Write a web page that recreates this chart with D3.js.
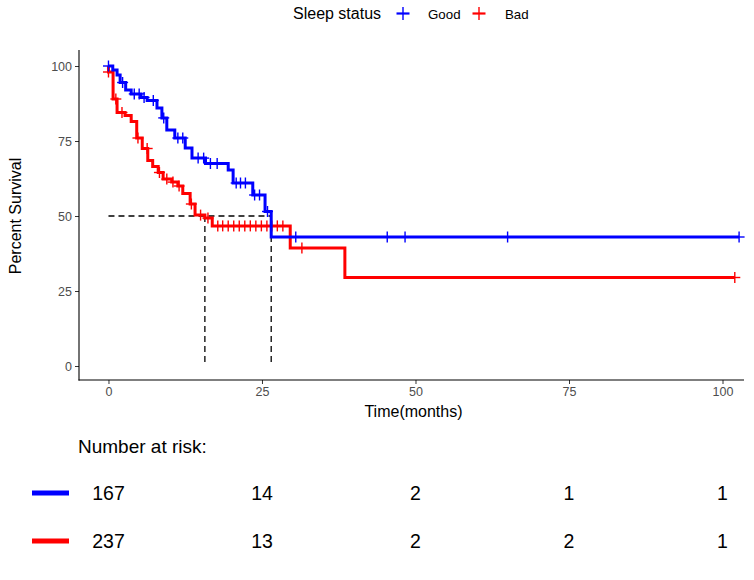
<!DOCTYPE html>
<html><head><meta charset="utf-8">
<script src="https://cdn.jsdelivr.net/npm/d3@7"></script>
<style>body{margin:0;background:#fff}svg{display:block}text{font-family:"Liberation Sans",Arial,Helvetica,sans-serif}</style>
</head><body><svg id="c" width="754" height="580"></svg>
<script>
// ---- data ----
const groups = ["Good", "Bad"];
const colors = ["#0000FF", "#FF0000"];
// step points: [time (months), percent survival]
const goodSteps = [[0,100],[0.7,98.7],[1.4,97],[1.9,94.5],[2.8,92],[3.7,90.7],[5.3,89.5],[6.3,88.5],[7.9,86],[8.7,82.7],[9.5,78.7],[10.8,76],[12.5,72.7],[13.6,69.3],[15.8,67.5],[19.5,65.3],[20.3,61],[23.5,57],[25.5,51.5],[26.5,43],[102.7,43]];
const badSteps = [[0,98],[0.75,89],[1.4,84.5],[2.7,83.5],[3.7,81.5],[4.6,76],[5.5,72.5],[6.4,68.5],[7.2,66.5],[8.1,64.5],[8.9,62.3],[10.3,61.3],[11.3,60],[12.1,57.5],[13.3,54],[14.1,50.3],[15.7,49.3],[16.9,46.7],[29.6,39.3],[38.5,29.5],[102,29.5]];
const goodCensor = [0,2.3,4.2,5,5.8,7.3,9.0,11.3,12.1,14.6,15.5,16.6,17.7,20.8,21.5,22.3,23.8,24.6,25.9,30.5,45.4,48.3,65,102.7];
const badCensor = [0,1.2,2.2,4.8,6.3,8.3,9.5,10.5,11.5,13.5,15,16.2,17.8,18.6,19.5,20.4,21.3,22.2,23.1,24.0,24.9,25.8,26.6,27.5,28.4,31.5,102];
const medians = [26.5, 15.7];
const xTicks = [0,25,50,75,100];
const yTicks = [0,25,50,75,100];
const riskTimes = [0,25,50,75,100];
const riskGood = [167,14,2,1,1];
const riskBad = [237,13,2,2,1];

const svg = d3.select("#c");
const x = d3.scaleLinear().domain([-4.8,103.5]).range([79,744]);
const y = d3.scaleLinear().domain([-5,105]).range([381,51]);

function survAt(steps,t){let s=steps[0][1];for(const p of steps){if(p[0]<=t)s=p[1];}return s;}

// median lines
const g0 = svg.append("g");
g0.append("line").attr("x1",x(0)).attr("x2",x(d3.max(medians))).attr("y1",y(50)).attr("y2",y(50))
  .attr("stroke","#000").attr("stroke-width",1.3).attr("stroke-dasharray","6,4");
medians.forEach(m=>{
  g0.append("line").attr("x1",x(m)).attr("x2",x(m)).attr("y1",y(50)).attr("y2",y(0))
    .attr("stroke","#000").attr("stroke-width",1.3).attr("stroke-dasharray","6,4");
});

// curves
const line = d3.line().x(d=>x(d[0])).y(d=>y(d[1])).curve(d3.curveStepAfter);
const allSteps=[goodSteps,badSteps], allCens=[goodCensor,badCensor];
[1,0].forEach(i=>{
  const st = i===0? [[0,100],...goodSteps.slice(1)] : [[0,100],...badSteps];
  svg.append("path").attr("d",line(st)).attr("fill","none").attr("stroke",colors[i]).attr("stroke-width",3);
  const cg = svg.append("g").attr("stroke",colors[i]).attr("stroke-width",1.4);
  allCens[i].forEach(t=>{
    const cx=x(t), cy=y(survAt(allSteps[i],t));
    cg.append("line").attr("x1",cx-5.5).attr("x2",cx+5.5).attr("y1",cy).attr("y2",cy);
    cg.append("line").attr("x1",cx).attr("x2",cx).attr("y1",cy-5.5).attr("y2",cy+5.5);
  });
});

// axes
const ax = svg.append("g").attr("transform","translate(0,380)")
  .call(d3.axisBottom(x).tickValues(xTicks).tickSize(4).tickPadding(3));
const ay = svg.append("g").attr("transform","translate(79,0)")
  .call(d3.axisLeft(y).tickValues(yTicks).tickSize(4).tickPadding(3));
[ax,ay].forEach(a=>{
  a.select(".domain").remove();
  a.selectAll(".tick line").attr("stroke","#333").attr("stroke-width",1);
  a.selectAll(".tick text").attr("fill","#4d4d4d").style("font-size","12.5px").style("font-family","Liberation Sans, Arial, sans-serif");
});
svg.append("line").attr("x1",79).attr("x2",79).attr("y1",50).attr("y2",380.5).attr("stroke","#000").attr("stroke-width",1.1);
svg.append("line").attr("x1",78.5).attr("x2",744).attr("y1",380).attr("y2",380).attr("stroke","#000").attr("stroke-width",1.1);

svg.append("text").attr("x",x(50)-2).attr("y",417).attr("text-anchor","middle").style("font-size","16px").text("Time(months)");
svg.append("text").attr("transform","translate(21,216) rotate(-90)").attr("text-anchor","middle").style("font-size","16px").text("Percent Survival");

// legend
const lg = svg.append("g");
lg.append("text").attr("x",293).attr("y",19).style("font-size","16px").text("Sleep status");
const lx=[403,479], tx=[428,505];
groups.forEach((gname,i)=>{
  lg.append("line").attr("x1",lx[i]-6.5).attr("x2",lx[i]+6.5).attr("y1",13.5).attr("y2",13.5).attr("stroke",colors[i]).attr("stroke-width",2.2);
  lg.append("line").attr("x1",lx[i]).attr("x2",lx[i]).attr("y1",7).attr("y2",20).attr("stroke",colors[i]).attr("stroke-width",1.4);
  lg.append("text").attr("x",tx[i]).attr("y",18.5).style("font-size","13.3px").text(gname);
});

// risk table
svg.append("text").attr("x",78).attr("y",453).style("font-size","19px").text("Number at risk:");
const rows=[riskGood,riskBad], ry=[493,541];
rows.forEach((r,i)=>{
  svg.append("line").attr("x1",32).attr("x2",69).attr("y1",ry[i]).attr("y2",ry[i]).attr("stroke",colors[i]).attr("stroke-width",5);
  r.forEach((v,j)=>{
    svg.append("text").attr("x",x(riskTimes[j])).attr("y",ry[i]+7).attr("text-anchor","middle").style("font-size","19.5px").text(v);
  });
});
</script></body></html>
